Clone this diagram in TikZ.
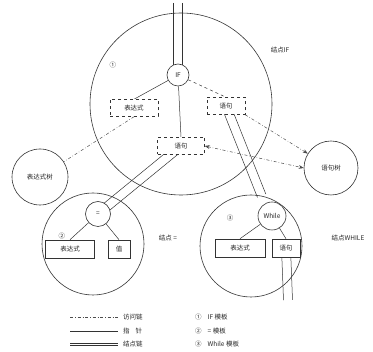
\documentclass[tikz,border=0pt]{standalone}
\usepackage{fontspec}
\newfontfamily\cjk{Noto Sans CJK SC}
\usetikzlibrary{arrows.meta,calc}
\pgfdeclarelayer{bg}
\pgfsetlayers{bg,main}
\begin{document}
\begin{tikzpicture}[x=1pt,y=-1pt,
  every node/.style={font=\cjk\fontsize{6.5}{7}\selectfont, text=black!85},
  ring/.style={circle, draw=black!80, line width=0.6pt, inner sep=0pt},
  wring/.style={ring, fill=white},
  dbox/.style={draw=black!80, dashed, line width=0.5pt, inner sep=0pt, minimum height=17pt, fill=white},
  sbox/.style={draw=black!80, line width=0.6pt, inner sep=0pt, minimum height=18pt, fill=white},
  ptr/.style={draw=black!80, line width=0.5pt},
  acc/.style={draw=black!70, line width=0.5pt, dash dot},
  lbl/.style={inner sep=0pt}]
\useasboundingbox (0,0) rectangle (373,352);

% node IF
\node[ring, minimum size=182pt] (bigIF) at (181,104) {};
\node[wring, minimum size=22pt] (IF) at (178,75) {IF};
\node[dbox, minimum width=48pt] (e1) at (134,108) {表达式};
\node[dbox, minimum width=38pt] (s1) at (226,106) {语句};
\node[dbox, minimum width=47pt] (s2) at (181,146) {语句};
\node[lbl] (n1) at (113,65) {①};
\node[lbl] (tIF) at (280,50) {结点IF};
\coordinate (topin) at (178,3);

% trees
\node[ring, minimum size=56pt] (etree) at (40,177) {表达式树};
\node[ring, minimum size=54pt] (stree) at (331,168) {语句树};

% node =
\node[ring, minimum size=102pt] (bigEQ) at (93,244) {};
\node[wring, minimum size=25pt] (EQ) at (98,214) {=};
\node[sbox, minimum width=49pt] (e2) at (70,249) {表达式};
\node[sbox, minimum width=22pt] (v2) at (119,249) {值};
\node[lbl] (n2) at (62,236) {②};
\node[lbl] (tEQ) at (168,238) {结点 =};

% node While
\node[ring, minimum size=102pt] (bigW) at (251,246) {};
\node[wring, minimum size=28pt] (W) at (272,216) {While};
\node[sbox, minimum width=50pt] (e3) at (240,248) {表达式};
\node[sbox, minimum width=28pt] (s3) at (286,248) {语句};
\node[lbl] (n3) at (230,218) {③};
\node[lbl] (tW) at (348,238) {结点WHILE};
\coordinate (wout) at (288,300);
\coordinate (wtop) at (bigW.78);

\begin{pgfonlayer}{bg}
% pointers inside nodes
\draw[ptr] (IF) -- (e1.north);
\draw[ptr, dashed] (IF) -- (s1.north);
\draw[ptr] (IF) -- (s2.north);
\draw[ptr] (EQ) -- (e2.north);
\draw[ptr] (EQ) -- (v2.north);
\draw[ptr] (W) -- (e3.north);
\draw[ptr] (W) -- (s3.north);

% access links to trees
\draw[acc] (e1.south) -- (etree);
\draw[acc, -{Stealth[length=5pt]}] (s1.south east) -- (stree);
\draw[acc, {Stealth[length=5pt]}-{Stealth[length=5pt]}] (s2.east) -- (stree.west);

% node chain (pairs of lines)
\foreach \a/\b in {topin/IF, s2/EQ, s1/wtop, s3/wout}{
  \draw[ptr] ($(\a)!4.5pt!90:(\b)$) -- ($(\b)!4.5pt!-90:(\a)$);
  \draw[ptr] ($(\a)!4.5pt!-90:(\b)$) -- ($(\b)!4.5pt!90:(\a)$);
}
\end{pgfonlayer}

% legend
\coordinate (la1) at (70,317); \coordinate (lb1) at (118,317);
\coordinate (la2) at (70,331); \coordinate (lb2) at (118,331);
\coordinate (la3) at (70,344); \coordinate (lb3) at (118,344);
\draw[acc] (la1) -- (lb1);
\draw[ptr] (la2) -- (lb2);
\draw[ptr] ($(la3)+(0,-0.8)$) -- ($(lb3)+(0,-0.8)$);
\draw[ptr] ($(la3)+(0,0.8)$) -- ($(lb3)+(0,0.8)$);
\node[lbl, anchor=west] (t1) at (123,317) {访问链};
\node[lbl, anchor=west] (t2) at (123,331) {指\hspace{6pt}针};
\node[lbl, anchor=west] (t3) at (123,344) {结点链};
\node[lbl, anchor=west] (r1) at (195,317) {①\hspace{6pt}IF 模板};
\node[lbl, anchor=west] (r2) at (195,331) {②\hspace{6pt}= 模板};
\node[lbl, anchor=west] (r3) at (195,344) {③\hspace{6pt}While 模板};
\end{tikzpicture}
\end{document}
